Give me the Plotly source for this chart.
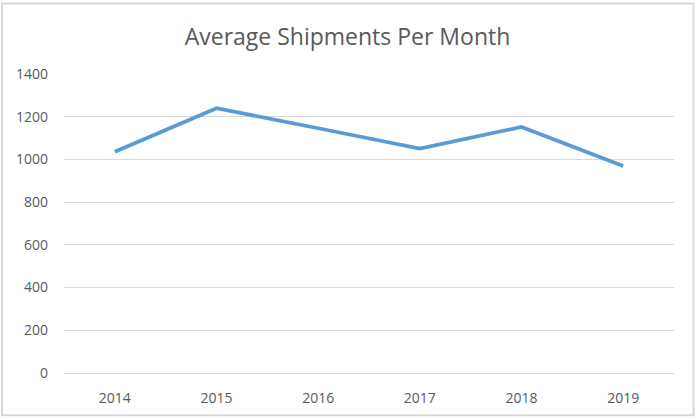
import plotly.graph_objects as go

years = ["2014", "2015", "2016", "2017", "2018", "2019"]
shipments = [1036, 1240, 1146, 1051, 1152, 969]
y_ticks = [0, 200, 400, 600, 800, 1000, 1200, 1400]

W, H = 695, 419
ml, mr, mt, mb = 64, 21, 74, 44
pw, ph = W - ml - mr, H - mt - mb

fig = go.Figure()
fig.add_trace(go.Scatter(
    x=years, y=shipments, mode="lines",
    line=dict(color="#5B9BD5", width=3.8),
    hoverinfo="x+y",
))

fig.update_layout(
    width=W, height=H,
    margin=dict(l=ml, r=mr, t=mt, b=mb),
    paper_bgcolor="white", plot_bgcolor="white",
    showlegend=False,
    title=dict(text="Average Shipments Per Month", x=0.5, xanchor="center",
               y=1 - 37 / H, yanchor="middle",
               font=dict(family="Open Sans", size=23, color="#595959")),
    font=dict(family="Open Sans", size=14, color="#595959"),
    xaxis=dict(type="category", range=[-0.5, 5.5], showgrid=False,
               showline=True, linecolor="#D9D9D9", linewidth=1,
               ticks="", ticklabelstandoff=12,
               tickfont=dict(size=14, color="#595959")),
    yaxis=dict(range=[0, 1400], tickvals=y_ticks, showgrid=True,
               gridcolor="#D9D9D9", gridwidth=1, zeroline=False,
               showline=False, ticks="", ticklabelstandoff=15,
               tickfont=dict(size=14, color="#595959")),
    shapes=[dict(type="rect", xref="paper", yref="paper",
                 x0=-(ml - 2) / pw, x1=1 + (mr - 1.5) / pw,
                 y0=-(mb - 1.5) / ph, y1=1 + (mt - 3) / ph,
                 line=dict(color="#D9D9D9", width=2), layer="below")],
)

fig.write_html("out.html", config={"displayModeBar": False},
               post_script="document.body.style.margin='0';")
